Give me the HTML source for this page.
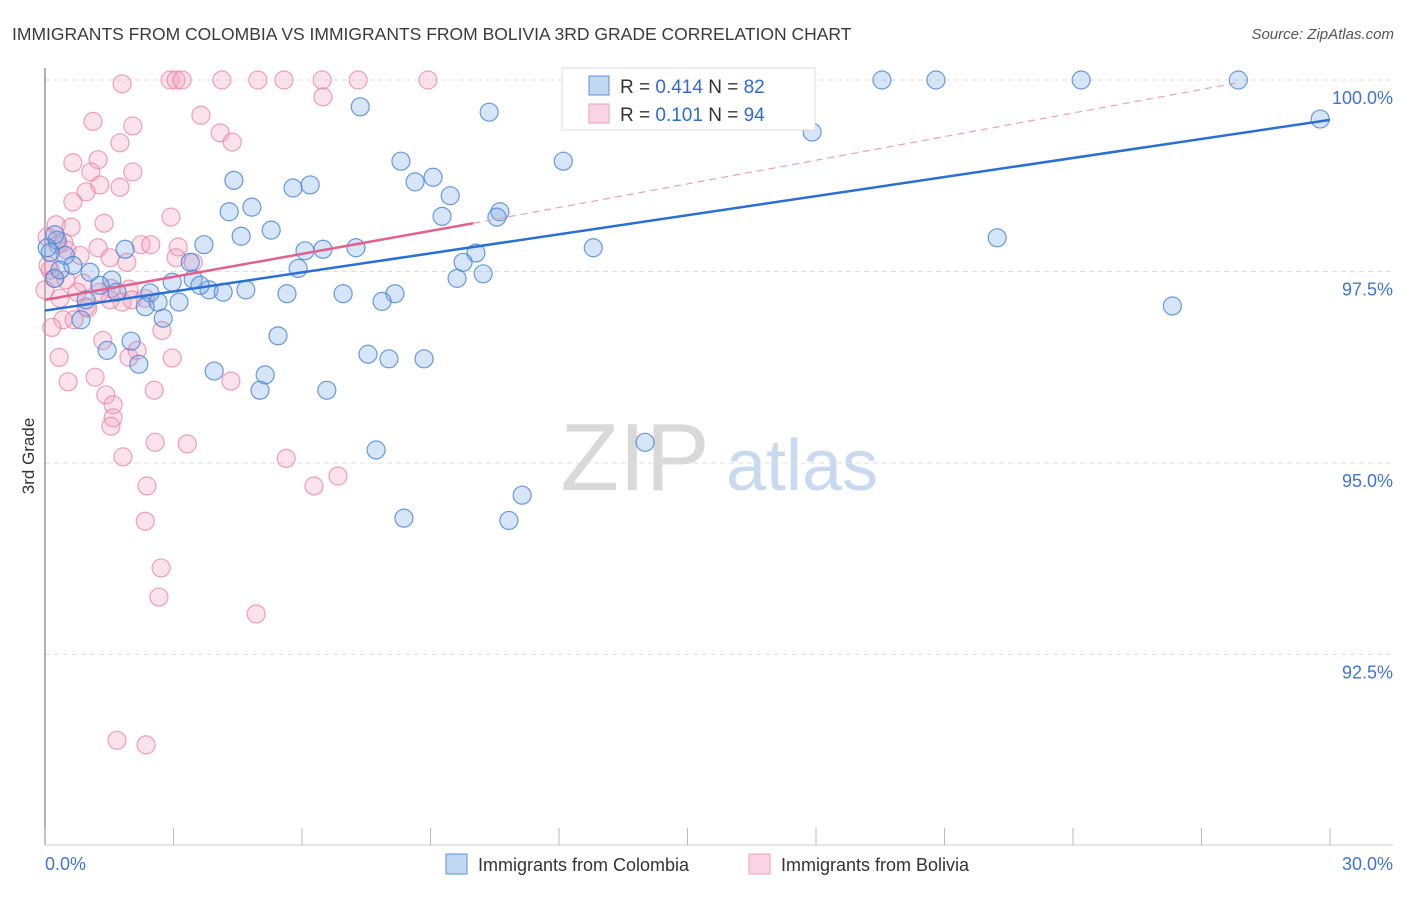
<!DOCTYPE html>
<html><head><meta charset="utf-8"><style>
body{margin:0;background:#fff;font-family:"Liberation Sans",sans-serif;}
svg text{font-family:"Liberation Sans",sans-serif;}
</style></head><body>
<svg id="chart" width="1406" height="892" viewBox="0 0 1406 892">
<text x="12" y="40" font-size="17.5" fill="#3a3a3a">IMMIGRANTS FROM COLOMBIA VS IMMIGRANTS FROM BOLIVIA 3RD GRADE CORRELATION CHART</text>
<text x="1394" y="39" font-size="15" fill="#555" text-anchor="end" font-style="italic">Source: ZipAtlas.com</text>
<text transform="translate(34,456) rotate(-90)" font-size="17" fill="#333" text-anchor="middle">3rd Grade</text>
<g>
<text x="635" y="490" font-size="96" fill="#d9d9d9" text-anchor="middle" font-family="Liberation Serif, serif">ZIP</text>
<text x="802" y="490" font-size="72" fill="#c9daf0" text-anchor="middle">atlas</text>
</g>
<g id="grid"></g>
<g id="axes"></g>
<g id="pts"></g>
<g id="lines"></g>
<g>
<rect x="562" y="68" width="253" height="62" fill="#fff" stroke="#ddd"/>
<rect x="589" y="76" width="20" height="19" fill="rgba(120,170,230,0.45)" stroke="#5b8fdc"/>
<rect x="589" y="104" width="20" height="19" fill="rgba(245,160,190,0.45)" stroke="#eba0ba"/>
<text x="620" y="93" font-size="19" fill="#333">R = <tspan fill="#2f6bd0">0.414</tspan>   N = <tspan fill="#2f6bd0">82</tspan></text>
<text x="620" y="121" font-size="19" fill="#333">R = <tspan fill="#2f6bd0"> 0.101</tspan>   N = <tspan fill="#2f6bd0">94</tspan></text>
</g>
<g>
<rect x="446" y="854" width="21" height="20" fill="rgba(120,170,230,0.45)" stroke="#5b8fdc"/>
<text x="478" y="871" font-size="18" fill="#333">Immigrants from Colombia</text>
<rect x="749" y="854" width="21" height="20" fill="rgba(245,160,190,0.45)" stroke="#eba0ba"/>
<text x="781" y="871" font-size="18" fill="#333">Immigrants from Bolivia</text>
</g>
</svg>
<script>
const blueX=[19.54,20.80,24.19,27.86,29.77,17.91,10.37,7.36,12.10,8.31,9.06,8.64,9.46,5.79,6.19,4.41,4.83,4.30,5.28,4.58,9.27,10.62,10.55,22.23,12.80,10.06,9.76,9.62,10.23,7.26,6.49,6.07,5.91,3.71,3.39,1.87,0.47,0.28,0.12,0.65,1.05,1.56,1.28,2.45,2.97,3.46,3.83,4.16,4.69,5.65,6.96,8.17,7.87,2.34,2.64,3.13,2.76,0.84,26.32,5.44,2.01,1.45,2.19,7.54,8.03,8.85,3.95,5.14,5.02,6.58,7.73,14.01,11.14,8.38,10.83,0.23,0.05,0.23,0.35,1.68,0.96,3.62];
const blueY=[100,100,100,100,99.49,99.32,99.58,99.65,98.94,98.94,98.73,98.67,98.49,98.59,98.63,98.69,98.34,98.28,98.04,97.96,98.22,98.28,98.21,97.94,97.81,97.74,97.62,97.41,97.47,97.81,97.79,97.77,97.54,97.85,97.62,97.79,97.71,97.91,97.75,97.58,97.49,97.39,97.32,97.22,97.36,97.40,97.26,97.23,97.26,97.21,97.21,97.21,97.11,97.04,97.10,97.10,96.89,96.87,97.05,96.66,96.59,96.47,96.29,96.42,96.36,96.36,96.20,96.15,95.95,95.95,95.17,95.27,94.58,94.28,94.25,97.98,97.81,97.41,97.52,97.23,97.13,97.32];
const pinkX=[1.80,2.92,3.06,3.20,4.13,4.97,5.58,6.47,7.31,8.94,6.49,1.12,2.05,3.64,4.09,4.37,1.75,0.65,1.24,1.07,2.05,1.28,1.75,0.96,0.65,2.94,1.38,0.26,0.61,0.05,0.44,0.30,0.51,1.24,2.24,2.47,3.11,0.82,1.52,1.91,3.06,3.46,0.12,0.49,0.21,0.89,1.54,1.96,1.28,0.35,0.96,1.52,1.80,0.75,0.42,0.16,0.68,2.73,1.35,1.96,2.15,0.33,2.97,1.17,0.54,2.55,4.34,1.42,1.59,1.59,1.54,2.57,3.32,1.82,5.63,6.84,6.28,2.38,2.34,2.71,2.66,4.93,1.68,2.36,0.07,0,1.00,2.03,2.34];
const pinkY=[99.95,100,100,100,100,100,100,100,100,100,99.78,99.46,99.40,99.54,99.31,99.19,99.18,98.92,98.96,98.80,98.80,98.63,98.60,98.54,98.41,98.21,98.13,98.11,98.08,97.95,97.88,97.85,97.78,97.81,97.85,97.85,97.82,97.71,97.68,97.62,97.68,97.62,97.52,97.39,97.41,97.35,97.28,97.27,97.23,97.15,97.04,97.13,97.10,97.23,96.87,96.77,96.87,96.73,96.60,96.38,96.47,96.38,96.37,96.12,96.06,95.95,96.07,95.89,95.76,95.59,95.48,95.27,95.25,95.08,95.06,94.83,94.70,94.70,94.24,93.63,93.25,93.03,91.38,91.32,97.58,97.26,97.02,97.13,97.15];
const yTicks=[100,97.5,95,92.5];
const yTickLabels=["100.0%","97.5%","95.0%","92.5%"];
const xTicks=[0,3,6,9,12,15,18,21,24,27,30];
const blueTrend=[[0,96.99],[30,99.48]];
const pinkTrendSolid=[[0,97.13],[10,98.13]];
const pinkTrendDash=[[10,98.13],[27.9,99.97]];

const NS="http://www.w3.org/2000/svg";
const X0=45,X1=1330,Y100=80,PXPER=76.6;
function sx(v){return X0+(v/30)*(X1-X0);}
function sy(v){return Y100+(100-v)*PXPER;}
function mk(tag,attrs,parent){const e=document.createElementNS(NS,tag);for(const k in attrs)e.setAttribute(k,attrs[k]);parent.appendChild(e);return e;}
const grid=document.getElementById('grid'),axes=document.getElementById('axes'),pts=document.getElementById('pts'),lines=document.getElementById('lines');
yTicks.forEach((t,i)=>{
  const l=mk('line',{x1:X0,x2:1393,y1:sy(t),y2:sy(t),stroke:'#dedede','stroke-dasharray':'5,4'},grid);
  
  
  const tx=mk('text',{x:1393,y:sy(t)+24,'font-size':18,fill:'#3f73d4','text-anchor':'end'},grid);
  tx.textContent=yTickLabels[i];
  
  
});
const ya=mk('line',{x1:X0,x2:X0,y1:68,y2:845,stroke:'#999','stroke-width':1.5},axes);


const xa=mk('line',{x1:X0,x2:1393,y1:845,y2:845,stroke:'#ccc'},axes);


xTicks.forEach(t=>{
  const l=mk('line',{x1:sx(t),x2:sx(t),y1:828,y2:845,stroke:'#bbb'},axes);
  
  
});
const xl0=mk('text',{x:45,y:870,'font-size':18,fill:'#3f73d4'},axes);xl0.textContent="0.0%";


const xl1=mk('text',{x:1393,y:870,'font-size':18,fill:'#3f73d4','text-anchor':'end'},axes);xl1.textContent="30.0%";


pinkX.forEach((x,i)=>{
  const c=mk('circle',{cx:sx(x),cy:sy(pinkY[i]),r:9,fill:'rgba(245,160,190,0.3)',stroke:'rgba(232,130,165,0.75)','stroke-width':1.2},pts);
  
  
});
blueX.forEach((x,i)=>{
  const c=mk('circle',{cx:sx(x),cy:sy(blueY[i]),r:9,fill:'rgba(120,170,230,0.3)',stroke:'rgba(70,130,215,0.8)','stroke-width':1.2},pts);
  
  
});
const bt=mk('line',{x1:sx(blueTrend[0][0]),y1:sy(blueTrend[0][1]),x2:sx(blueTrend[1][0]),y2:sy(blueTrend[1][1]),stroke:'#2a6fd6','stroke-width':2.5},lines);


const pt=mk('line',{x1:sx(pinkTrendSolid[0][0]),y1:sy(pinkTrendSolid[0][1]),x2:sx(pinkTrendSolid[1][0]),y2:sy(pinkTrendSolid[1][1]),stroke:'#e4608c','stroke-width':2.5},lines);


const pd=mk('line',{x1:sx(pinkTrendDash[0][0]),y1:sy(pinkTrendDash[0][1]),x2:sx(pinkTrendDash[1][0]),y2:sy(pinkTrendDash[1][1]),stroke:'#eba0ba','stroke-width':1.2,'stroke-dasharray':'7,5'},lines);


</script>
</body></html>
